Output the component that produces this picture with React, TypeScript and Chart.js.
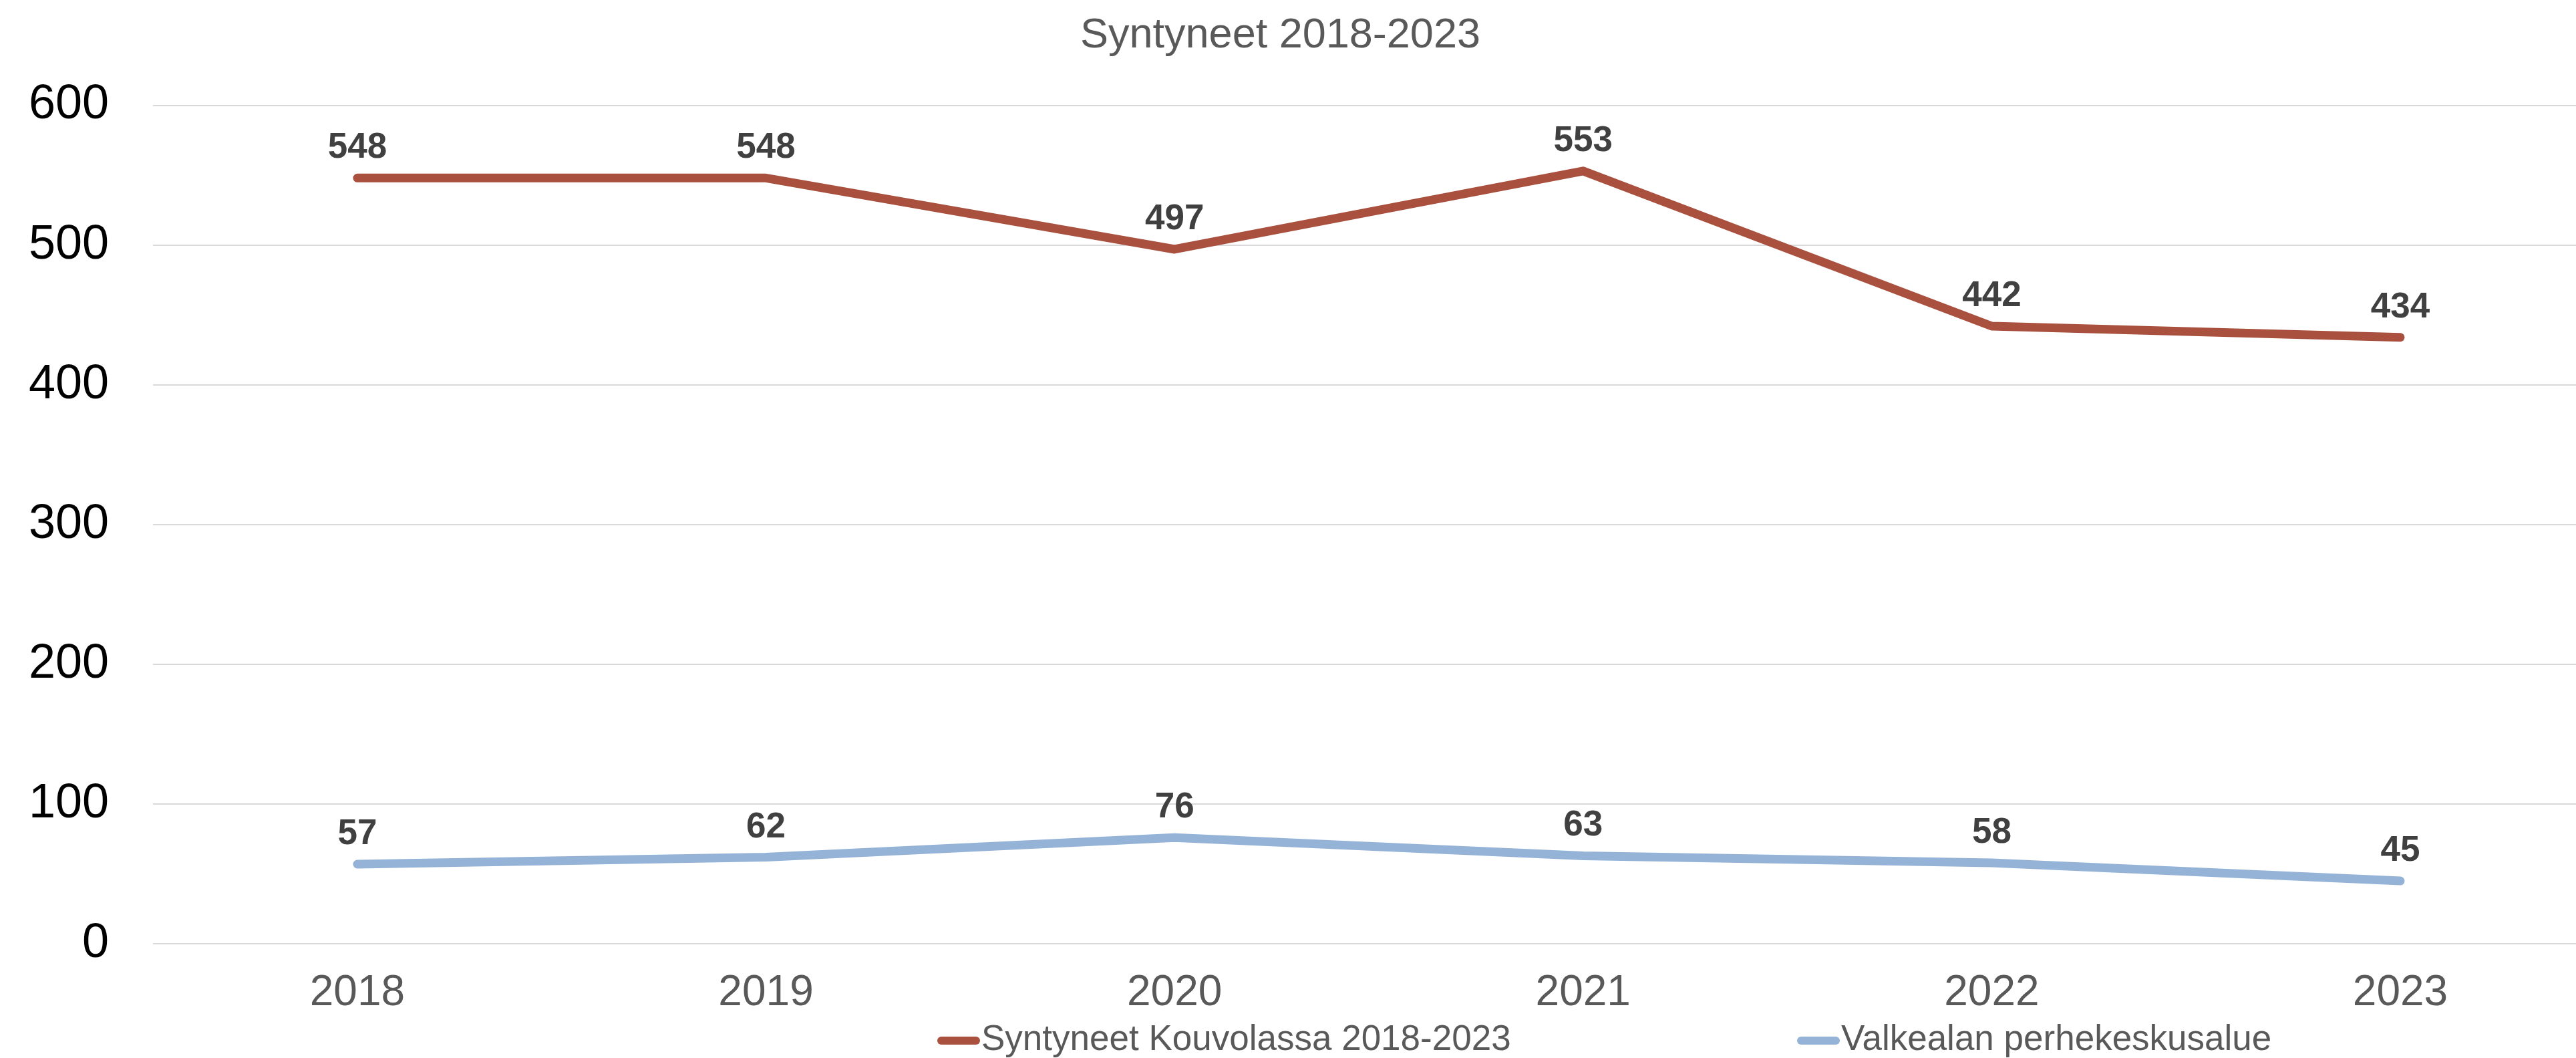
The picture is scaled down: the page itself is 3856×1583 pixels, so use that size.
import React, { useEffect, useRef } from "react";
import { Chart, registerables } from "chart.js";

Chart.register(...registerables);

const chartTitle = "Syntyneet 2018-2023";
const categories = ["2018", "2019", "2020", "2021", "2022", "2023"];
const seriesLabels = ["Syntyneet Kouvolassa 2018-2023", "Valkealan perhekeskusalue"];
const kouvolaValues = [548, 548, 497, 553, 442, 434];
const valkealaValues = [57, 62, 76, 63, 58, 45];
const yMin = 0;
const yMax = 600;
const yStep = 100;

const FONT = "'Liberation Sans', Arial, sans-serif";
const RED = "#A9503F";
const BLUE = "#95B3D7";

const dataLabelPlugin = {
  id: "dataLabels",
  afterDatasetsDraw(chart: any) {
    const ctx = chart.ctx;
    ctx.save();
    ctx.font = `bold 53px ${FONT}`;
    ctx.fillStyle = "#404040";
    ctx.textAlign = "center";
    ctx.textBaseline = "alphabetic";
    chart.data.datasets.forEach((ds: any, di: number) => {
      const meta = chart.getDatasetMeta(di);
      meta.data.forEach((pt: any, i: number) => {
        const v = ds.data[i].y;
        ctx.fillText(String(v), pt.x, pt.y - 30);
      });
    });
    ctx.restore();
  },
};

const legendPlugin = {
  id: "customLegend",
  afterDraw(chart: any) {
    const ctx = chart.ctx;
    const starts = [1403, 2690];
    const y = 1556;
    ctx.save();
    ctx.font = `53px ${FONT}`;
    ctx.textBaseline = "middle";
    ctx.textAlign = "left";
    chart.data.datasets.forEach((ds: any, di: number) => {
      const x = starts[di];
      ctx.strokeStyle = ds.borderColor;
      ctx.lineWidth = 12;
      ctx.lineCap = "round";
      ctx.beginPath();
      ctx.moveTo(x + 6, y + 1);
      ctx.lineTo(x + 58, y + 1);
      ctx.stroke();
      ctx.fillStyle = "#595959";
      ctx.fillText(ds.label, x + 66, y);
    });
    ctx.restore();
  },
};

export default function App() {
  const ref = useRef<HTMLCanvasElement | null>(null);

  useEffect(() => {
    document.body.style.margin = "0";
    document.body.style.overflow = "hidden";
    const canvas = ref.current;
    if (!canvas) return;
    const toPoints = (vals: number[]) =>
      vals.map((v, i) => ({ x: Number(categories[i]), y: v }));
    const chart = new Chart(canvas, {
      type: "line",
      data: {
        datasets: [
          {
            label: seriesLabels[0],
            data: toPoints(kouvolaValues),
            borderColor: RED,
            backgroundColor: RED,
            borderWidth: 13,
            borderCapStyle: "round",
            borderJoinStyle: "round",
            pointRadius: 0,
            tension: 0,
          },
          {
            label: seriesLabels[1],
            data: toPoints(valkealaValues),
            borderColor: BLUE,
            backgroundColor: BLUE,
            borderWidth: 13,
            borderCapStyle: "round",
            borderJoinStyle: "round",
            pointRadius: 0,
            tension: 0,
          },
        ],
      },
      options: {
        animation: false,
        responsive: false,
        devicePixelRatio: 1,
        layout: { padding: { left: -23, right: 0, top: 0, bottom: 22 } },
        plugins: {
          legend: { display: false },
          tooltip: { enabled: false },
          title: {
            display: true,
            text: chartTitle,
            color: "#595959",
            font: { family: FONT, size: 63, weight: "normal" },
            padding: { top: 16, bottom: 66 },
          },
        },
        scales: {
          x: {
            type: "linear",
            min: Number(categories[0]) - 0.5,
            max: Number(categories[categories.length - 1]) + 0.43,
            afterBuildTicks: (scale: any) => {
              scale.ticks = categories.map((c) => ({ value: Number(c) }));
            },
            grid: { display: false, drawTicks: false },
            border: { display: false },
            ticks: {
              color: "#595959",
              font: { family: FONT, size: 64 },
              padding: 36,
              autoSkip: false,
              maxRotation: 0,
              callback: (value: any) => {
                const c = categories.find((k) => Number(k) === Number(value));
                return c ?? "";
              },
            },
          },
          y: {
            min: yMin,
            max: yMax,
            grid: { color: "#D9D9D9", lineWidth: 2, drawTicks: false },
            border: { display: false },
            ticks: {
              stepSize: yStep,
              color: "#000000",
              font: { family: FONT, size: 72 },
              padding: 66,
            },
          },
        },
      },
      plugins: [dataLabelPlugin, legendPlugin],
    } as any);
    return () => chart.destroy();
  }, []);

  return (
    <div style={{ width: 3856, height: 1583, overflow: "hidden", background: "#fff" }}>
      <canvas ref={ref} width={3856} height={1583} style={{ width: 3856, height: 1583, display: "block" }} />
    </div>
  );
}
